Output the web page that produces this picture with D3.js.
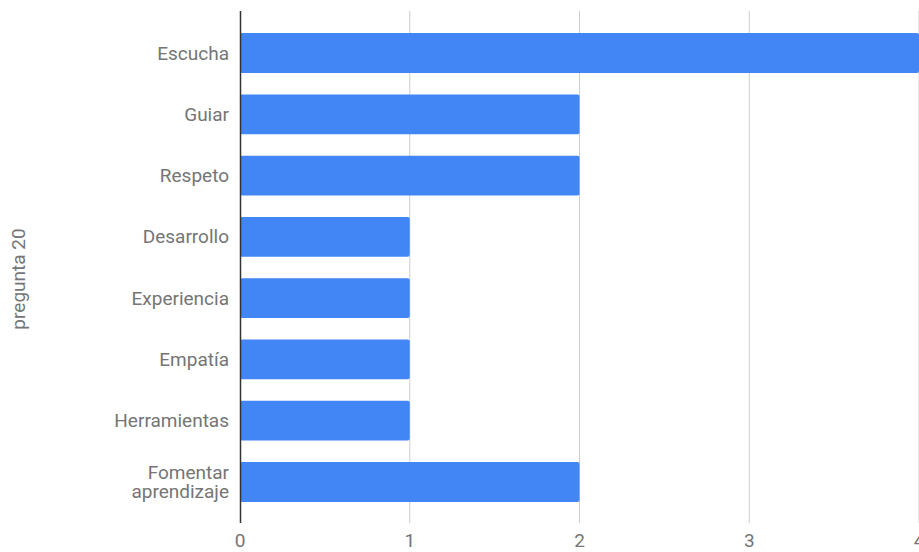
<!DOCTYPE html>
<html>
<head>
<meta charset="utf-8">
<script src="https://cdn.jsdelivr.net/npm/d3@7"></script>
<style>
  html, body { margin: 0; padding: 0; background: #fff; }
  svg { display: block; font-family: Roboto, "Noto Sans", sans-serif; }
</style>
</head>
<body>
<svg id="chart" width="919" height="552"></svg>
<script>
// Responses to "pregunta 20"
const categories = ["Escucha", "Guiar", "Respeto", "Desarrollo", "Experiencia", "Empatía", "Herramientas", "Fomentar aprendizaje"];
const counts = [4, 2, 2, 1, 1, 1, 1, 2];
const xTicks = [0, 1, 2, 3, 4];
const axisTitle = "pregunta 20";

const svg = d3.select("#chart");
const left = 240, right = 919;
const gridTop = 11, gridBottom = 523;
const fontSize = 19;
const textColor = "#757575";

const x = d3.scaleLinear().domain([0, 4]).range([left, right]);
const y = d3.scaleBand().domain(categories).range([22.4, 512.6]).paddingInner(0.35).paddingOuter(0.175);

// vertical gridlines
svg.append("g").selectAll("line").data(xTicks.filter(d => d > 0)).join("line")
  .attr("x1", d => x(d)).attr("x2", d => x(d))
  .attr("y1", gridTop).attr("y2", gridBottom)
  .attr("stroke", "#cccccc").attr("stroke-width", 1);

// bars
svg.append("g").selectAll("rect").data(categories).join("rect")
  .attr("x", x(0))
  .attr("y", d => y(d))
  .attr("width", (d, i) => x(counts[i]) - x(0))
  .attr("height", y.bandwidth())
  .attr("rx", 2).attr("ry", 2)
  .attr("fill", "#4285f4");

// baseline axis
svg.append("line")
  .attr("x1", x(0) + 0.5).attr("x2", x(0) + 0.5)
  .attr("y1", gridTop).attr("y2", gridBottom)
  .attr("stroke", "#333333").attr("stroke-width", 1.5);

// x tick labels
svg.append("g").selectAll("text").data(xTicks).join("text")
  .attr("x", d => x(d))
  .attr("y", 547)
  .attr("text-anchor", "middle")
  .attr("font-size", fontSize)
  .attr("fill", textColor)
  .text(d => d);

// category labels (wrap long ones onto two lines)
const labelG = svg.append("g");
categories.forEach(c => {
  const cy = y(c) + y.bandwidth() / 2;
  const words = c.split(" ");
  const lines = words.length > 1 ? [words[0], words.slice(1).join(" ")] : [c];
  const lineGap = 18.5;
  lines.forEach((line, i) => {
    labelG.append("text")
      .attr("x", 229)
      .attr("y", cy + 6.5 + (i - (lines.length - 1) / 2) * lineGap)
      .attr("text-anchor", "end")
      .attr("font-size", fontSize)
      .attr("fill", textColor)
      .text(line);
  });
});

// axis title
svg.append("text")
  .attr("transform", "translate(25,279) rotate(-90)")
  .attr("text-anchor", "middle")
  .attr("font-size", fontSize)
  .attr("fill", textColor)
  .text(axisTitle);
</script>
</body>
</html>
